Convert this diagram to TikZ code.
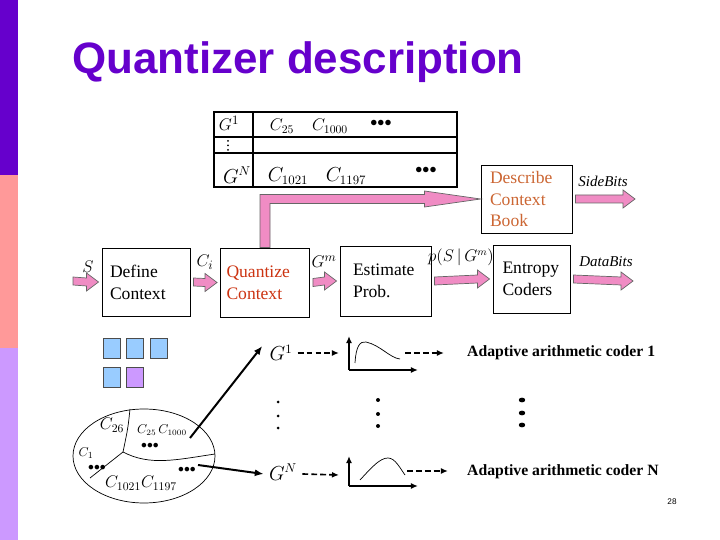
\documentclass[tikz,border=0pt]{standalone}
\usepackage{fontspec}
\setmainfont{Liberation Serif}
\setsansfont{Liberation Sans}
\usepackage{amsmath}
\usepackage{tikz}
\usetikzlibrary{arrows.meta,calc,positioning}

\newlength{\px}
\setlength{\px}{0.03cm}

\definecolor{titlepurple}{HTML}{6600CC}
\definecolor{barpink}{HTML}{FF9999}
\definecolor{barlilac}{HTML}{CC99FF}
\definecolor{arrowpink}{HTML}{F08CC4}
\definecolor{quantred}{HTML}{CC3311}
\definecolor{bookorange}{HTML}{CC6633}
\definecolor{cellblue}{HTML}{99CCFF}
\definecolor{celllilac}{HTML}{CC99FF}

\tikzset{
  slide title/.style={
    anchor=base west,
    inner sep=0pt,
    text=titlepurple,
    font=\sffamily\bfseries\fontsize{37.5}{40}\selectfont
  }
}
\tikzset{
  block/.style={
    rectangle,
    draw=black,
    line width=0.8pt,
    fill=white,
    align=left,
    inner sep=0pt,
    font=\fontsize{15}{18.7}\selectfont
  }
}
\tikzset{
  fat arrow/.style={
    fill=arrowpink,
    draw=black!60,
    line width=0.6pt,
    line join=miter
  }
}
\tikzset{
  sig label/.style={
    inner sep=1pt,
    font=\fontsize{15}{17}\selectfont
  }
}
\tikzset{
  bits label/.style={
    inner sep=1pt,
    font=\itshape\fontsize{12.8}{15}\selectfont
  }
}
\tikzset{
  pixel/.style={
    rectangle,
    draw=black!70,
    line width=0.5pt,
    fill=cellblue,
    minimum width=17\px,
    minimum height=20\px,
    inner sep=0pt
  }
}
\tikzset{
  pointer/.style={
    -{Latex[length=7.5pt,width=6pt]},
    draw=black,
    line width=1.7pt
  }
}
\tikzset{
  flow/.style={
    -{Latex[length=6pt,width=5pt]},
    dash pattern=on 5pt off 2.6pt,
    line width=1.4pt
  }
}
\tikzset{
  axis/.style={
    -{Latex[length=6pt,width=5pt]},
    line width=1.5pt
  }
}
\tikzset{
  coder label/.style={
    anchor=west,
    inner sep=0pt,
    font=\bfseries\fontsize{13.4}{15}\selectfont
  }
}
\newcommand{\bulletrow}{${\bullet}{\bullet}{\bullet}$}
\newcommand{\fatarrow}[2]{%
  \draw[fat arrow]
    ($(#1)+(3,-4)$) -- ($(#2)+(-15,-4)$) -- ($(#2)+(-15,-9)$)
    -- ($(#2)+(-3,0)$)
    -- ($(#2)+(-15,9)$) -- ($(#2)+(-15,4)$) -- ($(#1)+(3,4)$) -- cycle;
}

\begin{document}
\begin{tikzpicture}[x=0.03cm,y=-0.03cm]

    \useasboundingbox (0,0) rectangle (720,540);

    % ------------------------------------------------------------
    % Side bar and title
    % ------------------------------------------------------------

    \fill[titlepurple] (0,0) rectangle (18,175);
    \fill[barpink] (0,175) rectangle (18,348);
    \fill[barlilac] (0,348) rectangle (18,540);

    \node[slide title] (title) at (72,74) {Quantizer description};

    % ------------------------------------------------------------
    % Context book table
    % ------------------------------------------------------------

    \draw[line width=2.6\px] (214,112) rectangle (457,187);
    \draw[line width=2\px] (214,137) -- (457,137);
    \draw[line width=2\px] (214,153) -- (457,153);
    \draw[line width=2\px] (253,112) -- (253,187);

    \node[font=\fontsize{15}{17}\selectfont] (g1cell) at (229,123) {$G^{1}$};
    \node[font=\fontsize{14}{16}\selectfont] (c25cell) at (282,126) {$C_{25}$};
    \node[font=\fontsize{14}{16}\selectfont] (c1000cell) at (330,126) {$C_{1000}$};
    \node[font=\fontsize{12}{14}\selectfont] (dots1cell) at (381,123) {\bulletrow};
    \fill (228,141) circle (1\px);
    \fill (228,145.5) circle (1\px);
    \fill (228,150) circle (1\px);
    \node[font=\fontsize{16}{18}\selectfont] (gNcell) at (237,175) {$G^{N}$};
    \node[font=\fontsize{16}{18}\selectfont] (c1021cell) at (288,176) {$C_{1021}$};
    \node[font=\fontsize{16}{18}\selectfont] (c1197cell) at (346,176) {$C_{1197}$};
    \node[font=\fontsize{12}{14}\selectfont] (dots2cell) at (426,170) {\bulletrow};

    % ------------------------------------------------------------
    % Blocks
    % ------------------------------------------------------------

    \node[block, minimum width=88\px, minimum height=68\px, text width=72\px]
      (define) at (146,282) {Define\\Context};

    \node[block, minimum width=89\px, minimum height=69\px, text width=77\px,
      text=quantred]
      (quant) at (265,282.5) {Quantize\\Context};

    \node[block, minimum width=91\px, minimum height=70\px, text width=65\px]
      (estimate) at (385.5,281) {Estimate\\Prob.};

    \node[block, minimum width=77\px, minimum height=68\px, text width=58\px]
      (entropy) at (531.5,279) {Entropy\\Coders};

    \node[block, minimum width=91\px, minimum height=68\px, text width=73\px,
      text=bookorange, font=\fontsize{15}{18.3}\selectfont]
      (describe) at (526.5,199) {Describe\\Context\\Book};

    \coordinate (sin) at (70,281);
    \coordinate (dataout) at (636,281);
    \coordinate (sideout) at (638,199);

    % ------------------------------------------------------------
    % Pink arrows
    % ------------------------------------------------------------

    \fatarrow{sin}{define.west}
    \fatarrow{define.east}{quant.west}
    \fatarrow{quant.east}{estimate.west}
    \fatarrow{estimate.east}{entropy.west}
    \fatarrow{entropy.east}{dataout}
    \fatarrow{describe.east}{sideout}

    \draw[fat arrow]
      ($(quant.north)+(-5,0)$)
      |- ($(describe.west)+(-56,-4.5)$)
      -- ($(describe.west)+(-56,-8)$)
      -- (describe.west)
      -- ($(describe.west)+(-56,8)$)
      -- ($(describe.west)+(-56,4.5)$)
      -| ($(quant.north)+(5,0)$)
      -- cycle;

    \node[sig label] (slabel) at (88,267) {$S$};
    \node[sig label] (cilabel) at (205,262) {$C_i$};
    \node[sig label] (gmlabel) at (324,262) {$G^m$};
    \node[sig label, font=\fontsize{13.5}{15}\selectfont]
      (plabel) at (461,257) {$p(S\,|\,G^m)$};
    \node[bits label] (datalabel) at (606,262) {DataBits};
    \node[bits label] (sidelabel) at (603,181) {SideBits};

    % ------------------------------------------------------------
    % Context pixels and context set
    % ------------------------------------------------------------

    \node[pixel] (px1) at (111.5,348) {};
    \node[pixel] (px2) at (135,348) {};
    \node[pixel] (px3) at (159,348) {};
    \node[pixel] (px4) at (111.5,377) {};
    \node[pixel, fill=celllilac] (px5) at (135,377) {};

    \draw[line width=0.6pt] (144,456) ellipse [x radius=71, y radius=47];
    \draw[line width=0.6pt]
      (130,409) .. controls (128,428) .. (123,452) -- (90,478);
    \draw[line width=0.6pt]
      (123,452) .. controls (150,466) and (175,460) .. (215,454);

    \node[font=\fontsize{14}{16}\selectfont, inner sep=0pt] (c26) at (112,425) {$C_{26}$};
    \node[font=\fontsize{11}{13}\selectfont, inner sep=0pt] (c1) at (86,453) {$C_{1}$};
    \node[font=\fontsize{10}{12}\selectfont, inner sep=0pt] (dotsc1) at (97,468) {\bulletrow};
    \node[font=\fontsize{10.5}{12}\selectfont, inner sep=0pt] (c25) at (162,430) {$C_{25}\,C_{1000}$};
    \node[font=\fontsize{10}{12}\selectfont, inner sep=0pt] (dotsc25) at (150,446) {\bulletrow};
    \node[font=\fontsize{14}{16}\selectfont, inner sep=0pt] (c1021) at (141,483) {$C_{1021}C_{1197}$};
    \node[font=\fontsize{10}{12}\selectfont, inner sep=0pt] (dotsc1021) at (187,470) {\bulletrow};

    \coordinate (reg1) at (190,438);
    \coordinate (regN) at (198,465);

    % ------------------------------------------------------------
    % Coders
    % ------------------------------------------------------------

    \node[font=\fontsize{16}{18}\selectfont, inner sep=1pt] (g1) at (281,353) {$G^{1}$};
    \node[font=\fontsize{16}{18}\selectfont, inner sep=1pt] (gN) at (283,472) {$G^{N}$};

    \draw[pointer] (reg1) -- ($(g1.west)+(-6,-7)$);
    \draw[pointer] (regN) -- ($(gN.west)+(-4,2)$);

    \coordinate (plot1) at (349,370);
    \coordinate (plot2) at (349,486);

    \draw[axis] (plot1) -- ++(0,-34);
    \draw[axis] (plot1) -- ++(69,0);
    \draw[line width=0.6pt]
      (355,363) .. controls (356,346) and (360,341) .. (366,342)
      .. controls (380,345) and (390,358) .. (400,359);

    \draw[axis] (plot2) -- ++(0,-30);
    \draw[axis] (plot2) -- ++(69,0);
    \draw[line width=0.6pt]
      (360,480) .. controls (372,467) and (380,458) .. (388,458)
      .. controls (395,458) and (400,468) .. (405,475);

    \node[coder label] (coder1) at (467,353) {Adaptive arithmetic coder 1};
    \node[coder label] (coderN) at (467,472) {Adaptive arithmetic coder N};

    \draw[flow] ($(g1.east)+(4,0)$) -- ($(plot1)+(-10,-17)$);
    \draw[flow] ($(plot1)+(56,-17)$) -- ($(coder1.west)+(-23,0)$);
    \draw[flow] ($(gN.east)+(4,2)$) -- ($(plot2)+(-10,-11)$);
    \draw[flow] ($(plot2)+(58,-15)$) -- ($(coderN.west)+(-19,-1)$);

    \fill (278,402) circle (1.5\px);
    \fill (278,416) circle (1.5\px);
    \fill (278,428) circle (1.5\px);
    \fill (378,400) circle (2\px);
    \fill (378,414) circle (2\px);
    \fill (378,426) circle (2\px);
    \fill (522,400) ellipse [x radius=3.2, y radius=2.4];
    \fill (522,413) ellipse [x radius=3.2, y radius=2.4];
    \fill (522,425) ellipse [x radius=3.2, y radius=2.4];

    \node[font=\sffamily\fontsize{7}{8}\selectfont] (pagenum) at (672,502) {28};

\end{tikzpicture}
\end{document}
